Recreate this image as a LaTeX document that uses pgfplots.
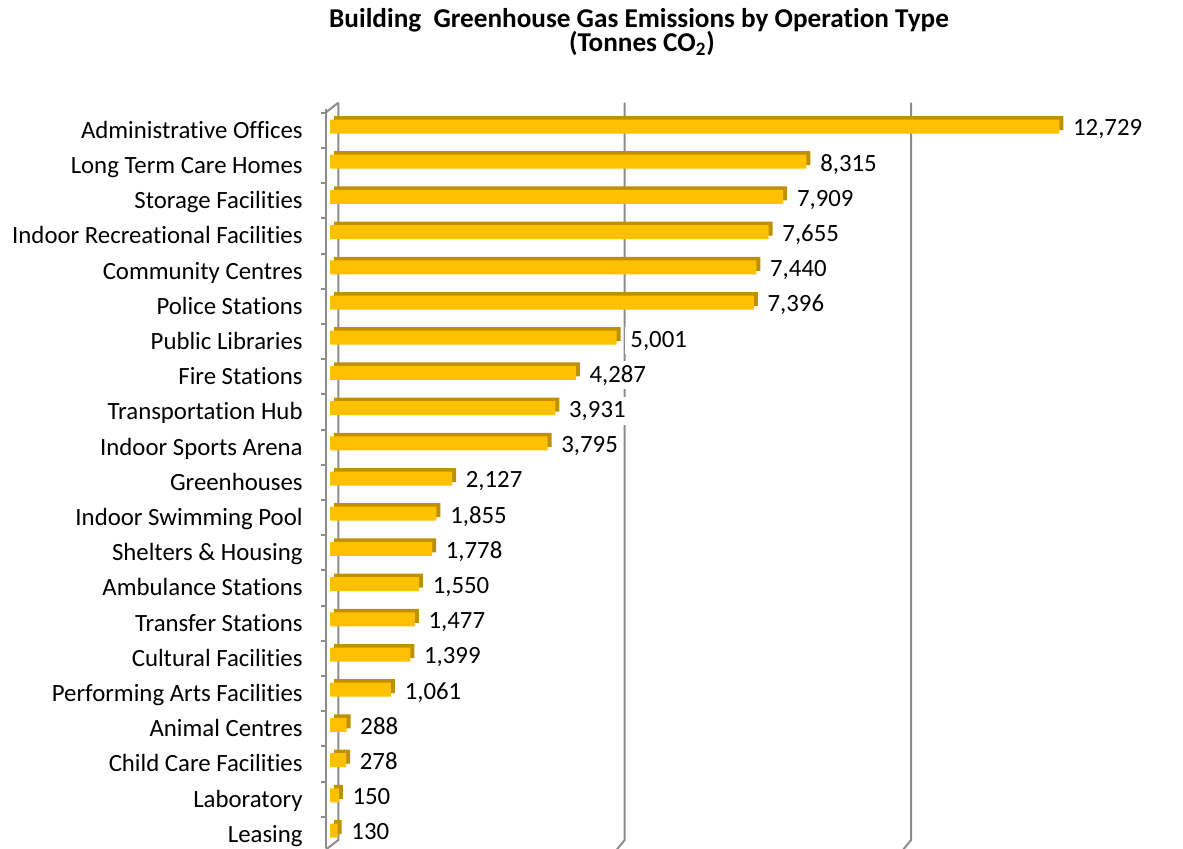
\documentclass[border=0pt]{standalone}
\usepackage{fontspec}
\setmainfont{Carlito}[Ligatures={NoCommon}]
\usepackage{pgfplots}
\pgfplotsset{compat=1.18}
\usepackage{pgfplotstable}
\definecolor{barfront}{HTML}{FFC000}
\definecolor{barside}{HTML}{BF9000}
\definecolor{gridc}{HTML}{8C8C8C}

\pgfplotstableread[col sep=comma]{
idx,val
0,12729
1,8315
2,7909
3,7655
4,7440
5,7396
6,5001
7,4287
8,3931
9,3795
10,2127
11,1855
12,1778
13,1550
14,1477
15,1399
16,1061
17,288
18,278
19,150
20,130
}\datatable

\begin{document}
\begin{tikzpicture}
\useasboundingbox (0pt,0pt) rectangle (591.5pt,424pt);
\node[anchor=base, font=\fontsize{13.6}{15}\selectfont\bfseries] at (319.5pt,410.4pt) {Building\ \ Greenhouse Gas Emissions by Operation Type};
\node[anchor=base, font=\fontsize{13.6}{15}\selectfont\bfseries] at (321pt,398.3pt) {(Tonnes CO\textsubscript{2})};
\begin{axis}[
  at={(162.75pt,-0.05pt)}, anchor=south west,
  scale only axis, width=386.12pt, height=369.6pt,
  xmin=-82, xmax=13400, ymin=-0.5, ymax=20.5, y dir=reverse,
  clip=false,
  axis x line=none,
  axis y line*=left,
  axis line style={gridc, line width=1pt},
  ytick={0,...,20},
  major tick length=0pt,
  ytick style={draw=none},
  yticklabels={Administrative Offices, Long Term Care Homes, Storage Facilities, Indoor Recreational Facilities, Community Centres, Police Stations, Public Libraries, Fire Stations, Transportation Hub, Indoor Sports Arena, Greenhouses, Indoor Swimming Pool, Shelters \& Housing, Ambulance Stations, Transfer Stations, Cultural Facilities, Performing Arts Facilities, Animal Centres, Child Care Facilities, Laboratory, Leasing},
  yticklabel style={anchor=base east, inner sep=0pt, xshift=-11.25pt, yshift=-5.9pt, font=\fontsize{12.4}{14}\selectfont, text=black},
  extra y ticks={-0.39,0.61,...,20.61},
  extra y tick labels={},
  extra y tick style={major tick length=2.25pt, tick align=outside, ytick style={draw=gridc, line width=1pt}},
]
% back wall grid lines with floor edge
\addplot[gridc, line width=1pt] coordinates {(141,-0.676) (141,20.27) (-82,20.55)};
\addplot[gridc, line width=1pt] coordinates {(5141,-0.676) (5141,20.27) (5000,20.55)};
\addplot[gridc, line width=1pt] coordinates {(10141,-0.676) (10141,20.27) (10000,20.55)};
% top diagonal of front axis
\addplot[gridc, line width=1pt] coordinates {(-82,-0.39) (141,-0.676)};
% depth (top and side faces)
\addplot[xbar, bar width=7pt, fill=barside, draw=none, xshift=2pt, yshift=1.75pt] table[x=val, y=idx] {\datatable};
% front faces
\addplot[xbar, bar width=7pt, fill=barfront, draw=none] table[x=val, y=idx] {\datatable};
% value labels
\addplot[draw=none, mark=none, point meta=x,
  nodes near coords={\pgfmathprintnumber[assume math mode=true, 1000 sep={,}]{\pgfplotspointmeta}},
  nodes near coords style={anchor=base west, fill=white, inner xsep=2.5pt, inner ysep=2pt, xshift=4.2pt, yshift=-4.65pt, font=\fontsize{12.4}{14}\selectfont, text=black}
] table[x=val, y=idx] {\datatable};
\end{axis}
\end{tikzpicture}
\end{document}
